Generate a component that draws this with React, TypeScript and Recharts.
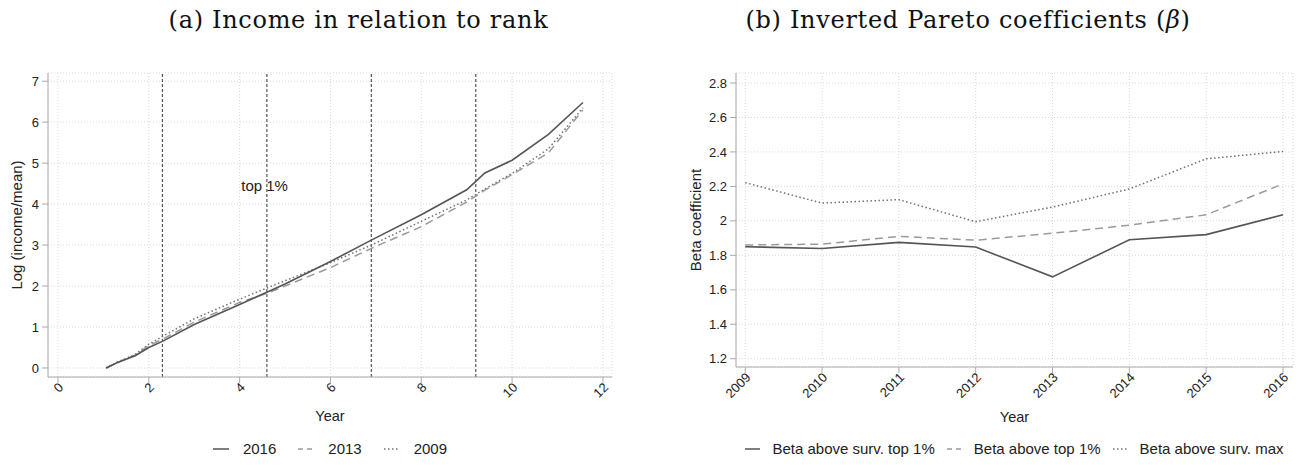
import { LineChart, Line, XAxis, YAxis, CartesianGrid, ReferenceLine, ReferenceArea, ReferenceDot, Legend } from 'recharts';

// (a) log income over log rank
const rankX = [1.06, 1.3, 1.7, 2, 2.3, 3, 4, 4.6, 5, 6, 6.9, 8, 9, 9.4, 10, 10.8, 11.56];
const income2016 = [0, 0.13, 0.3, 0.5, 0.65, 1.06, 1.55, 1.85, 2.05, 2.6, 3.12, 3.74, 4.35, 4.76, 5.07, 5.7, 6.48];
const income2013 = [0, 0.13, 0.32, 0.55, 0.7, 1.12, 1.6, 1.82, 2.0, 2.45, 2.92, 3.45, 4.05, 4.34, 4.72, 5.25, 6.3];
const income2009 = [0, 0.14, 0.33, 0.58, 0.77, 1.2, 1.68, 1.95, 2.13, 2.57, 3.0, 3.58, 4.1, 4.37, 4.75, 5.35, 6.35];
const rankTicks = [0, 2, 4, 6, 8, 10, 12];
const incomeTicks = [0, 1, 2, 3, 4, 5, 6, 7];
const cutoffs = [2.3, 4.6, 6.9, 9.2];
const cutoffLabel = 'top 1%';

// (b) beta coefficients by year
const years = [2009, 2010, 2011, 2012, 2013, 2014, 2015, 2016];
const betaSurvTop1 = [1.85, 1.84, 1.875, 1.848, 1.675, 1.89, 1.92, 2.035];
const betaTop1 = [1.86, 1.865, 1.91, 1.888, 1.928, 1.975, 2.035, 2.215];
const betaSurvMax = [2.222, 2.103, 2.123, 1.995, 2.08, 2.185, 2.36, 2.403];
const betaTicks = [1.2, 1.4, 1.6, 1.8, 2, 2.2, 2.4, 2.6, 2.8];

const incomeData = rankX.map((x, i) => ({ x, y2016: income2016[i], y2013: income2013[i], y2009: income2009[i] }));
const betaData = years.map((year, i) => ({ year, survTop1: betaSurvTop1[i], top1: betaTop1[i], survMax: betaSurvMax[i] }));

const SANS = '"Liberation Sans", Arial, sans-serif';
const SERIF = '"DejaVu Serif", "Liberation Serif", serif';
const AXIS = '#aaaaaa';
const GRID = '#d8d8d8';
const TEXT = '#222222';

const SOLID = { stroke: '#555555', dash: undefined as string | undefined };
const DASHED = { stroke: '#9a9a9a', dash: '8 5' };
const DOTTED = { stroke: '#707070', dash: '1.5 2.5' };

function RotatedTick(props: any) {
  const { x, y, payload } = props;
  const tx = x + 3;
  const ty = y + 1;
  return (
    <text
      x={tx}
      y={ty}
      textAnchor="end"
      dominantBaseline="central"
      transform={`rotate(-45, ${tx}, ${ty})`}
      fontSize={13}
      fontFamily={SANS}
      fill={TEXT}
    >
      {payload.value}
    </text>
  );
}

type LegendItem = { label: string; stroke: string; dash?: string };

function makeLegend(items: LegendItem[], iconW: number, iconGap: number, itemGap: number) {
  return () => (
    <div style={{ display: 'flex', justifyContent: 'center', alignItems: 'center', fontFamily: SANS, fontSize: 15, color: TEXT }}>
      {items.map((it, i) => (
        <div key={it.label} style={{ display: 'flex', alignItems: 'center', marginRight: i < items.length - 1 ? itemGap : 0 }}>
          <svg width={iconW} height={10} style={{ marginRight: iconGap }}>
            <line x1={0} y1={5} x2={iconW} y2={5} stroke={it.stroke} strokeWidth={1.5} strokeDasharray={it.dash} />
          </svg>
          <span>{it.label}</span>
        </div>
      ))}
    </div>
  );
}

const incomeLegend = makeLegend([
  { label: '2016', stroke: SOLID.stroke, dash: SOLID.dash },
  { label: '2013', stroke: DASHED.stroke, dash: '5 4' },
  { label: '2009', stroke: DOTTED.stroke, dash: DOTTED.dash },
], 16, 14, 22);

const betaLegend = makeLegend([
  { label: 'Beta above surv. top 1%', stroke: SOLID.stroke, dash: SOLID.dash },
  { label: 'Beta above top 1%', stroke: DASHED.stroke, dash: '5 4' },
  { label: 'Beta above surv. max', stroke: DOTTED.stroke, dash: DOTTED.dash },
], 15, 12, 12);

const tickStyle = { fontSize: 13, fontFamily: SANS, fill: TEXT };
const axisTitle = { fontSize: 15, fontFamily: SANS, fill: TEXT };

function IncomeChart() {
  return (
    <LineChart width={650} height={465} data={incomeData} margin={{ top: 73, right: 38, left: 0, bottom: 38 }}>
      <CartesianGrid stroke={GRID} strokeDasharray="1 2" />
      <ReferenceArea fill="none" stroke="#e2e2e2" />
      <XAxis
        type="number"
        dataKey="x"
        domain={[-0.22, 12.2]}
        ticks={rankTicks}
        height={50}
        stroke={AXIS}
        tickSize={6}
        tickMargin={1}
        tick={<RotatedTick />}
        label={{ value: 'Year', position: 'insideBottom', offset: 6, style: { ...axisTitle, fontSize: 14.5 } }}
      />
      <YAxis
        type="number"
        domain={[-0.22, 7.2]}
        ticks={incomeTicks}
        width={48}
        stroke={AXIS}
        tickSize={6}
        tickMargin={3}
        tick={tickStyle}
        label={{ value: 'Log (income/mean)', angle: -90, position: 'insideLeft', offset: 17, style: { ...axisTitle, textAnchor: 'middle' } }}
      />
      {cutoffs.map((c) => (
        <ReferenceLine key={c} x={c} stroke="#555" strokeWidth={1.2} strokeDasharray="3 2" />
      ))}
      <ReferenceDot
        x={4.55}
        y={4.45}
        r={0}
        stroke="none"
        fill="none"
        label={{ value: cutoffLabel, position: 'center', style: axisTitle }}
      />
      <Line dataKey="y2009" stroke={DOTTED.stroke} strokeDasharray={DOTTED.dash} strokeWidth={1.5} dot={false} isAnimationActive={false} />
      <Line dataKey="y2013" stroke={DASHED.stroke} strokeDasharray={DASHED.dash} strokeWidth={1.5} dot={false} isAnimationActive={false} />
      <Line dataKey="y2016" stroke={SOLID.stroke} strokeWidth={1.6} dot={false} isAnimationActive={false} />
      <Legend
        verticalAlign="middle"
        align="center"
        content={incomeLegend}
        wrapperStyle={{ top: 440, left: 48, width: 564 }}
      />
    </LineChart>
  );
}

function BetaChart() {
  return (
    <LineChart width={654} height={465} data={betaData} margin={{ top: 73, right: 11, left: 0, bottom: 38 }}>
      <CartesianGrid stroke={GRID} strokeDasharray="1 2" />
      <ReferenceArea fill="none" stroke="#e2e2e2" />
      <XAxis
        type="number"
        dataKey="year"
        domain={[2008.88, 2016.13]}
        ticks={years}
        height={60}
        stroke={AXIS}
        tickSize={6}
        tickMargin={1}
        tick={<RotatedTick />}
        label={{ value: 'Year', position: 'insideBottom', offset: 5, style: { ...axisTitle, fontSize: 14.5 } }}
      />
      <YAxis
        type="number"
        domain={[1.152, 2.858]}
        ticks={betaTicks}
        width={86}
        stroke={AXIS}
        tickSize={6}
        tickMargin={3}
        tick={tickStyle}
        label={{ value: 'Beta coefficient', angle: -90, position: 'insideLeft', offset: 46, style: { ...axisTitle, textAnchor: 'middle' } }}
      />
      <Line dataKey="survMax" stroke={DOTTED.stroke} strokeDasharray={DOTTED.dash} strokeWidth={1.5} dot={false} isAnimationActive={false} />
      <Line dataKey="top1" stroke={DASHED.stroke} strokeDasharray={DASHED.dash} strokeWidth={1.5} dot={false} isAnimationActive={false} />
      <Line dataKey="survTop1" stroke={SOLID.stroke} strokeWidth={1.6} dot={false} isAnimationActive={false} />
      <Legend
        verticalAlign="middle"
        align="center"
        content={betaLegend}
        wrapperStyle={{ top: 440, left: 86, width: 557 }}
      />
    </LineChart>
  );
}

const titleStyle = {
  position: 'absolute' as const,
  top: 6,
  textAlign: 'center' as const,
  fontFamily: SERIF,
  fontSize: 24,
  letterSpacing: 0.7,
  color: '#111',
  whiteSpace: 'nowrap' as const,
};

export default function App() {
  return (
    <div style={{ position: 'absolute', left: 0, top: 0, width: 1304, height: 465, background: '#fff', overflow: 'hidden' }}>
      <div style={{ position: 'absolute', left: 0, top: 0 }}>
        <IncomeChart />
      </div>
      <div style={{ position: 'absolute', left: 650, top: 0 }}>
        <BetaChart />
      </div>
      <div style={{ ...titleStyle, left: 0, width: 717 }}>(a) Income in relation to rank</div>
      <div style={{ ...titleStyle, left: 650, width: 636 }}>
        (b) Inverted Pareto coefficients (<i>β</i>)
      </div>
    </div>
  );
}
